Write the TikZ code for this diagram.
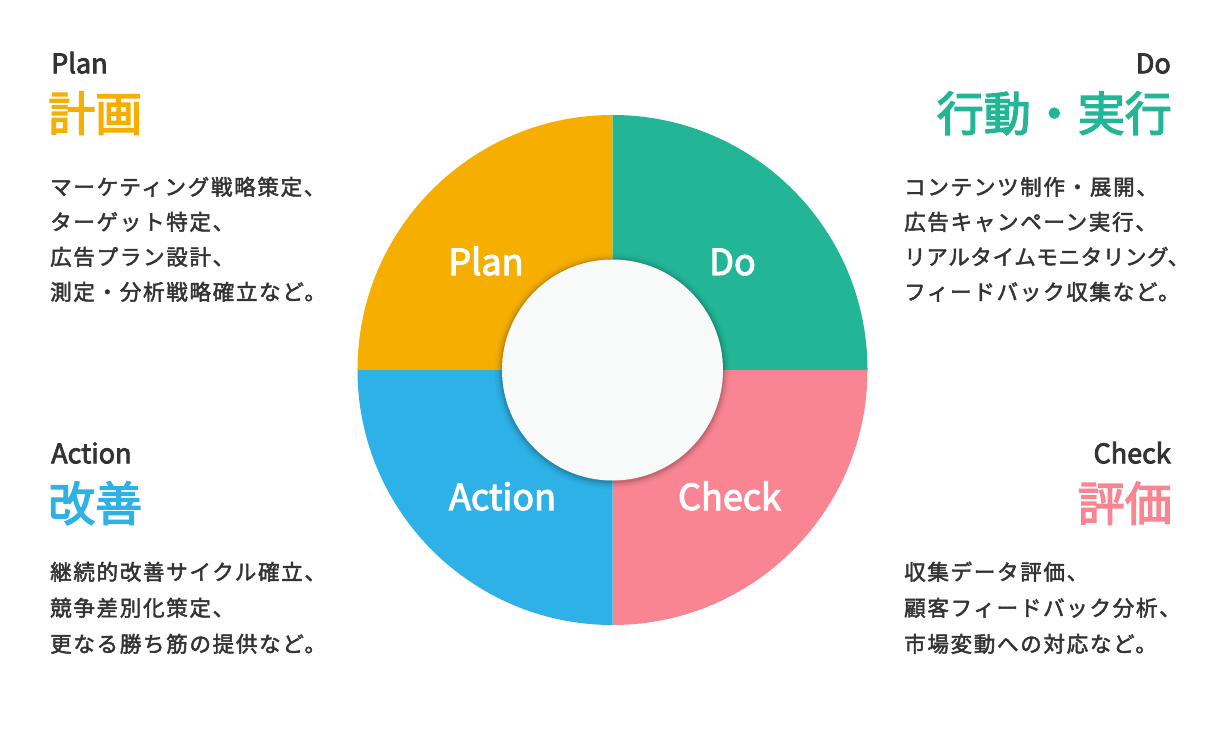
\documentclass[tikz,border=0pt]{standalone}
\usepackage{fontspec}
\setmainfont{Noto Sans CJK JP}
\newfontfamily\medf[FakeBold=3]{Noto Sans CJK JP}
\newfontfamily\bodyf[LetterSpace=8,FakeBold=2.2]{Noto Sans CJK JP}
\newfontfamily\bodyn[LetterSpace=3,FakeBold=2.2]{Noto Sans CJK JP}
\definecolor{planc}{HTML}{F6AE00}
\definecolor{doc}{HTML}{22B596}
\definecolor{checkc}{HTML}{FA8592}
\definecolor{actc}{HTML}{2DB1E6}
\definecolor{txt}{HTML}{333333}
\definecolor{hubc}{HTML}{F8FAF9}
\tikzset{
  ringlab/.style={inner sep=0pt, text=white, font=\fontsize{36}{40}\medf},
  lab/.style={inner sep=0pt, text=txt, font=\fontsize{27}{30}\medf},
  ttl/.style={inner sep=0pt, font=\fontsize{47}{50}\medf},
  body/.style={inner sep=0pt, text=txt, font=\fontsize{21.5}{24}\bodyf},
  bodynarrow/.style={inner sep=0pt, text=txt, font=\fontsize{21.5}{24}\bodyn},
}
\begin{document}
\begin{tikzpicture}[x=1pt,y=1pt]
\useasboundingbox (0,0) rectangle (1220,740);
\fill[white] (0,0) rectangle (1220,740);
\coordinate (C) at (612.5,370);
% ring
\fill[planc] (C) -- ++(0,255) arc[start angle=90,end angle=180,radius=255pt] -- cycle;
\fill[doc] (C) -- ++(255,0) arc[start angle=0,end angle=90,radius=255pt] -- cycle;
\fill[checkc] (C) -- ++(0,-255) arc[start angle=270,end angle=360,radius=255pt] -- cycle;
\fill[actc] (C) -- ++(-255,0) arc[start angle=180,end angle=270,radius=255pt] -- cycle;
% hub shadow
\foreach \r/\o in {118/0.02,116/0.03,114.5/0.04,113/0.06,112/0.08}
  \fill[black,opacity=\o] (612.5,369) circle[radius=\r pt];
\node[circle, fill=hubc, minimum size=221pt, inner sep=0pt] (hub) at (C) {};
% ring labels
\node[ringlab, anchor=base] (rp) at (486,465) {Plan};
\node[ringlab, anchor=base] (rd) at (732.5,465) {Do};
\node[ringlab, anchor=base] (ra) at (502.5,230) {Action};
\node[ringlab, anchor=base] (rc) at (729.5,230) {Check};
% Plan block
\node[lab, anchor=base west] (pl) at (51,666.7) {Plan};
\node[ttl, text=planc, anchor=base west] (pt) at (48,609) {計画};
\node[body, anchor=base west] (p1) at (50,545) {マーケティング戦略策定、};
\node[body, anchor=base west] (p2) at (50,510) {ターゲット特定、};
\node[body, anchor=base west] (p3) at (50,475) {広告プラン設計、};
\node[body, anchor=base west] (p4) at (50,440) {測定・分析戦略確立など。};
% Do block
\node[lab, anchor=base east] (dl) at (1171,666.7) {Do};
\node[ttl, text=doc, anchor=base east] (dt) at (1172,609) {行動・実行};
\node[body, anchor=base west] (d1) at (904,545) {コンテンツ制作・展開、};
\node[body, anchor=base west] (d2) at (904,510) {広告キャンペーン実行、};
\node[bodynarrow, anchor=base west] (d3) at (904,475) {リアルタイムモニタリング、};
\node[body, anchor=base west] (d4) at (904,440) {フィードバック収集など。};
% Action block
\node[lab, anchor=base west] (al) at (51,276.7) {Action};
\node[ttl, text=actc, anchor=base west] (at) at (48,219) {改善};
\node[body, anchor=base west] (a1) at (50,160) {継続的改善サイクル確立、};
\node[body, anchor=base west] (a2) at (50,124) {競争差別化策定、};
\node[body, anchor=base west] (a3) at (50,88) {更なる勝ち筋の提供など。};
% Check block
\node[lab, anchor=base east] (cl) at (1171,276.7) {Check};
\node[ttl, text=checkc, anchor=base east] (ct) at (1172,219) {評価};
\node[body, anchor=base west] (c1) at (904,160) {収集データ評価、};
\node[body, anchor=base west] (c2) at (904,124) {顧客フィードバック分析、};
\node[body, anchor=base west] (c3) at (904,88) {市場変動への対応など。};
\end{tikzpicture}
\end{document}
